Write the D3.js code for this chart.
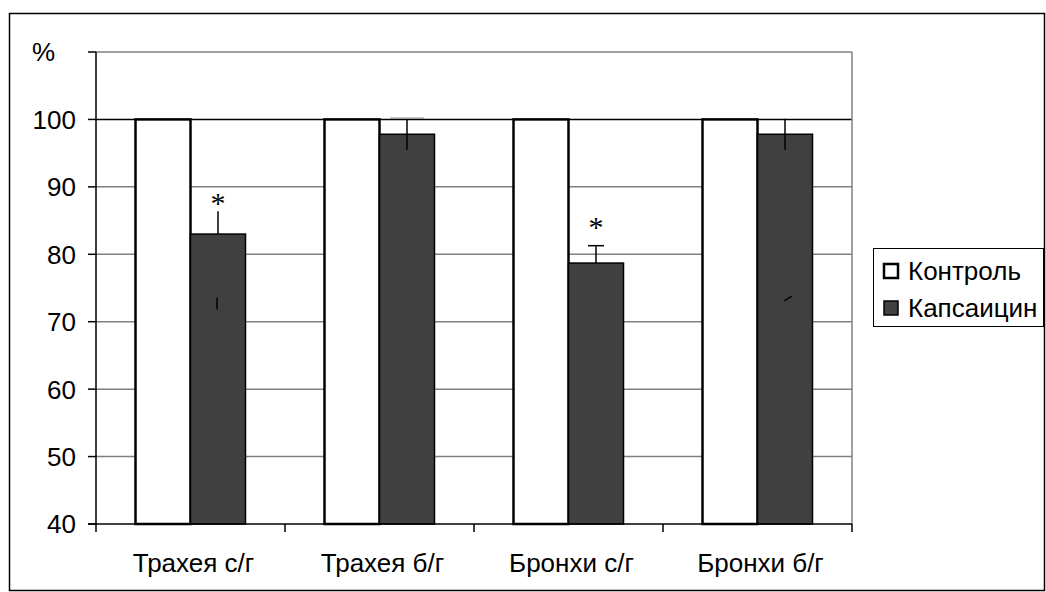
<!DOCTYPE html>
<html>
<head>
<meta charset="utf-8">
<script src="https://cdn.jsdelivr.net/npm/d3@7"></script>
<style>
  body { margin: 0; background: #fff; }
  text { font-family: Arial, "Liberation Sans", sans-serif; }
</style>
</head>
<body>
<svg id="drawing_region"></svg>
<script>
// chart values
const categories = ["Трахея с/г", "Трахея б/г", "Бронхи с/г", "Бронхи б/г"];
const series = ["Контроль", "Капсаицин"];
const control = [100, 100, 100, 100];
const capsaicin = [83, 97.8, 78.7, 97.8];
const errUp = [3.4, 2.3, 2.5, 2.3];
const errDown = [0, 2.3, 0, 2.3];      // lower half only visible on these
const errCap = [false, true, true, false];
const starAt = [88.6, null, 85.0, null]; // significance marks
const yTicks = [40, 50, 60, 70, 80, 90, 100, 110];
const yTickLabels = ["40", "50", "60", "70", "80", "90", "100", "%"];
// small stray marks inside bars (lower error ends)
const stubs = [{cat: 0, lo: 71.8, hi: 73.6, slant: 0}, {cat: 3, lo: 73.1, hi: 73.8, slant: 8}];

const config = {
    width: 1046,
    height: 592,
    margin: {top: 52, right: 194, bottom: 68, left: 96}
};

const svg = d3.select('#drawing_region')
    .attr('width', config.width)
    .attr('height', config.height);

// outer frame
svg.append('rect')
    .attr('x', 9.5).attr('y', 13.5)
    .attr('width', 1035).attr('height', 577)
    .attr('fill', 'none').attr('stroke', '#000').attr('stroke-width', 1.5);

const inner_width = config.width - config.margin.left - config.margin.right;
const inner_height = config.height - config.margin.top - config.margin.bottom;

const chart = svg.append('g')
    .attr('transform', `translate(${config.margin.left}, ${config.margin.top})`);

const xscale = d3.scaleBand()
    .domain(categories)
    .range([0, inner_width]);

const yscale = d3.scaleLinear()
    .domain([40, 110])
    .range([inner_height, 0]);

const barW = 55;

// gridlines
chart.selectAll('.grid')
    .data(yTicks.filter(d => d > 40))
    .enter()
    .append('line')
    .attr('x1', 0).attr('x2', inner_width)
    .attr('y1', d => yscale(d)).attr('y2', d => yscale(d))
    .attr('stroke', d => d === 100 ? '#000' : '#808080')
    .attr('stroke-width', 1.5);

// right border of plot area
chart.append('line')
    .attr('x1', inner_width).attr('x2', inner_width)
    .attr('y1', 0).attr('y2', inner_height)
    .attr('stroke', '#808080').attr('stroke-width', 1.5);

// control bars
chart.selectAll('.ctrl')
    .data(control)
    .enter()
    .append('rect')
    .attr('x', (d, i) => xscale(categories[i]) + xscale.bandwidth() / 2 - barW)
    .attr('y', d => yscale(d))
    .attr('width', barW)
    .attr('height', d => yscale(40) - yscale(d))
    .attr('fill', '#fff')
    .attr('stroke', '#000')
    .attr('stroke-width', 2.5);

// capsaicin bars
chart.selectAll('.caps')
    .data(capsaicin)
    .enter()
    .append('rect')
    .attr('x', (d, i) => xscale(categories[i]) + xscale.bandwidth() / 2)
    .attr('y', d => yscale(d))
    .attr('width', barW)
    .attr('height', d => yscale(40) - yscale(d))
    .attr('fill', '#404040')
    .attr('stroke', '#000')
    .attr('stroke-width', 1.5);

// error bars
capsaicin.forEach((v, i) => {
    const cx = xscale(categories[i]) + xscale.bandwidth() / 2 + barW / 2;
    chart.append('line')
        .attr('x1', cx).attr('x2', cx)
        .attr('y1', yscale(v + errUp[i]))
        .attr('y2', yscale(v - errDown[i]))
        .attr('stroke', '#000').attr('stroke-width', 1.5);
    if (errCap[i]) {
        const cw = i === 1 ? 34 : 16;
        chart.append('line')
            .attr('x1', cx - cw / 2).attr('x2', cx + cw / 2)
            .attr('y1', yscale(v + errUp[i]) - 0.5).attr('y2', yscale(v + errUp[i]) - 0.5)
            .attr('stroke', i === 1 ? '#999' : '#000').attr('stroke-width', 1.5);
    }
    if (starAt[i] !== null) {
        chart.append('text')
            .attr('x', cx)
            .attr('y', yscale(starAt[i]))
            .attr('dy', '0.55em')
            .attr('text-anchor', 'middle')
            .style('font-family', '"Liberation Serif", "Times New Roman", serif')
            .style('font-size', '30px')
            .text('*');
    }
});

stubs.forEach(s => {
    const cx = xscale(categories[s.cat]) + xscale.bandwidth() / 2 + barW / 2;
    chart.append('line')
        .attr('x1', cx - 1).attr('x2', cx - 1 + s.slant)
        .attr('y1', yscale(s.lo)).attr('y2', yscale(s.hi))
        .attr('stroke', '#000').attr('stroke-width', 1.5);
});

// axes
chart.append('line')
    .attr('x1', 0).attr('x2', 0)
    .attr('y1', 0).attr('y2', inner_height)
    .attr('stroke', '#000').attr('stroke-width', 1.5);

chart.append('line')
    .attr('x1', -8).attr('x2', inner_width)
    .attr('y1', inner_height).attr('y2', inner_height)
    .attr('stroke', '#000').attr('stroke-width', 1.5);

chart.selectAll('.ytick')
    .data(yTicks)
    .enter()
    .append('line')
    .attr('x1', -8).attr('x2', 0)
    .attr('y1', d => yscale(d)).attr('y2', d => yscale(d))
    .attr('stroke', '#000').attr('stroke-width', 1.5);

chart.selectAll('.ylabel')
    .data(yTicks)
    .enter()
    .append('text')
    .attr('x', (d, i) => yTickLabels[i] === '%' ? -64 : -20)
    .attr('y', d => yscale(d))
    .attr('dy', '0.36em')
    .attr('text-anchor', (d, i) => yTickLabels[i] === '%' ? 'start' : 'end')
    .style('font-size', '26px')
    .text((d, i) => yTickLabels[i]);

// category ticks
chart.selectAll('.xtick')
    .data(d3.range(categories.length + 1))
    .enter()
    .append('line')
    .attr('x1', d => d * xscale.bandwidth()).attr('x2', d => d * xscale.bandwidth())
    .attr('y1', inner_height).attr('y2', inner_height + 8)
    .attr('stroke', '#000').attr('stroke-width', 1.5);

chart.selectAll('.xlabel')
    .data(categories)
    .enter()
    .append('text')
    .attr('x', d => xscale(d) + xscale.bandwidth() / 2 + 3)
    .attr('y', inner_height + 48)
    .attr('text-anchor', 'middle')
    .style('font-size', '26px')
    .text(d => d);

// legend
const legend = svg.append('g')
    .attr('transform', 'translate(873, 248)');

legend.append('rect')
    .attr('x', 0.5).attr('y', 0.5)
    .attr('width', 170).attr('height', 78)
    .attr('fill', '#fff')
    .attr('stroke', '#000').attr('stroke-width', 1);

series.forEach((s, i) => {
    legend.append('rect')
        .attr('x', 11).attr('y', 16 + i * 37)
        .attr('width', 14).attr('height', 14)
        .attr('fill', i === 0 ? '#fff' : '#404040')
        .attr('stroke', '#000')
        .attr('stroke-width', i === 0 ? 2.5 : 1.5);
    legend.append('text')
        .attr('x', 35).attr('y', 23 + i * 37)
        .attr('dy', '0.36em')
        .style('font-size', '26px')
        .text(s);
});
</script>
</body>
</html>
